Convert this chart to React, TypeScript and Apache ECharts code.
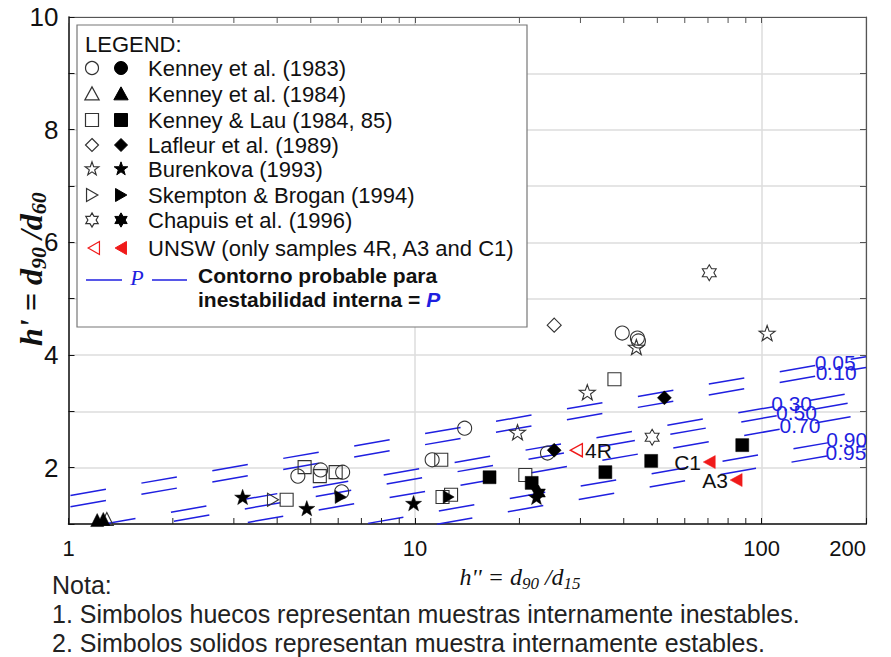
import React, { useEffect, useRef } from 'react';
import * as echarts from 'echarts';

// ---------------- data ----------------
const xMinorTicks = [2, 3, 4, 5, 6, 7, 8, 9, 20, 30, 40, 50, 60, 70, 80, 90];

// [h'' = d90/d15, h' = d90/d60]
const kenney1983Hollow = [[4.59, 1.85], [5.34, 1.96], [6.18, 1.92], [6.14, 1.57], [11.2, 2.14], [13.9, 2.70], [24.1, 2.26], [39.6, 4.39], [43.8, 4.30], [44.1, 4.25]];
const kenney1983Solid: number[][] = [];
const kenney1984Hollow = [[1.29, 1.09]];
const kenney1984Solid = [[1.21, 1.07], [1.26, 1.09]];
const kenneyLauHollow = [[4.80, 2.01], [5.31, 1.85], [5.90, 1.92], [4.26, 1.43], [11.9, 2.14], [12.0, 1.48], [12.7, 1.52], [20.8, 1.87], [37.6, 3.57]];
const kenneyLauSolid = [[16.4, 1.83], [21.7, 1.73], [35.4, 1.92], [48.0, 2.12], [87.9, 2.40]];
const lafleurHollow = [[25.2, 4.53]];
const lafleurSolid = [[25.2, 2.31], [52.4, 3.24]];
const burenkovaHollow = [[43.5, 4.14], [103.7, 4.39], [31.4, 3.34], [19.75, 2.63]];
const burenkovaSolid = [[3.18, 1.48], [4.87, 1.28], [9.90, 1.37], [22.4, 1.48]];
const skemptonHollow = [[3.89, 1.43]];
const skemptonSolid = [[6.10, 1.48], [12.5, 1.48]];
const chapuisHollow = [[70.6, 5.46], [48.3, 2.54]];
const chapuisSolid = [[22.7, 1.55]];
const unswHollow = [[29.2, 2.31]];
const unswHollowNames = ['4R'];
const unswSolid = [[70.6, 2.10], [84.4, 1.78]];
const unswSolidNames = ['C1', 'A3'];

// probable internal-instability contours: h' at h''=1 and at h''=200
const contourLevels = ['0.05', '0.10', '0.30', '0.50', '0.70', '0.90', '0.95'];
const contourStartY = [1.50, 1.30, 0.89, 0.72, 0.47, 0.08, -0.15];
const contourEndY = [3.97, 3.78, 3.37, 3.20, 2.95, 2.56, 2.33];
const contourLabelX = [163, 164, 122, 126, 129, 176, 175];

const legendNames = [
  'Kenney et al. (1983)',
  'Kenney et al. (1984)',
  'Kenney & Lau (1984, 85)',
  'Lafleur et al. (1989)',
  'Burenkova (1993)',
  'Skempton & Brogan (1994)',
  'Chapuis et al. (1996)',
  'UNSW (only samples 4R, A3 and C1)',
];

const notes = [
  'Nota:',
  '1. Simbolos huecos representan muestras internamente inestables.',
  '2. Simbolos solidos representan muestra internamente estables.',
];

// ---------------- styles ----------------
const BLUE = '#1f1fe0';
const RED = '#f01a1a';
const INK = '#111';
const FONT = "'Liberation Sans', Arial, sans-serif";
const SERIF = "'Liberation Serif', 'Times New Roman', serif";

function starPoints(cx: number, cy: number, R: number) {
  const pts: number[][] = [];
  for (let k = 0; k < 10; k++) {
    const a = (-90 + 36 * k) * Math.PI / 180;
    const r = k % 2 === 0 ? R : R * 0.4;
    pts.push([cx + r * Math.cos(a), cy + r * Math.sin(a)]);
  }
  return pts;
}
function hexagramPoints(cx: number, cy: number, R: number) {
  const pts: number[][] = [];
  for (let k = 0; k < 12; k++) {
    const a = (-90 + 30 * k) * Math.PI / 180;
    const r = k % 2 === 0 ? R : R / Math.sqrt(3);
    pts.push([cx + r * Math.cos(a), cy + r * Math.sin(a)]);
  }
  return pts;
}
function toPath(pts: number[][]) {
  return 'path://' + pts.map((p, i) => (i ? 'L' : 'M') + p[0].toFixed(3) + ',' + p[1].toFixed(3)).join(' ') + ' Z';
}

const shapes = ['circle', 'triangle', 'rect', 'diamond', 'star', 'triRight', 'hexagram', 'triLeft'];
const SYMBOL: Record<string, string> = {
  circle: 'circle',
  triangle: 'triangle',
  rect: 'rect',
  diamond: 'diamond',
  star: toPath(starPoints(0, 0, 10)),
  triRight: 'path://M0,0 L10,6 L0,12 Z',
  hexagram: toPath(hexagramPoints(0, 0, 10)),
  triLeft: 'path://M10,0 L0,6 L10,12 Z',
};
const SYMBOL_SIZE: Record<string, any> = {
  circle: 14, triangle: 13, rect: 13, diamond: 14, star: 16, triRight: [11, 13], hexagram: 16, triLeft: [12, 13],
};

const Z = 100;

function legendShape(shape: string, cx: number, cy: number, s: number, hollow: boolean, color: string) {
  const style = hollow
    ? { fill: 'none', stroke: color, lineWidth: 1.2 }
    : { fill: color, stroke: color, lineWidth: 1 };
  if (shape === 'circle') return { type: 'circle', z: Z + 1, shape: { cx, cy, r: s / 2 }, style };
  if (shape === 'rect') return { type: 'rect', z: Z + 1, shape: { x: cx - s / 2, y: cy - s / 2, width: s, height: s }, style };
  let pts: number[][] = [];
  if (shape === 'triangle') pts = [[cx, cy - s * 0.55], [cx + s * 0.55, cy + s * 0.45], [cx - s * 0.55, cy + s * 0.45]];
  if (shape === 'diamond') pts = [[cx, cy - s / 2], [cx + s / 2, cy], [cx, cy + s / 2], [cx - s / 2, cy]];
  if (shape === 'star') pts = starPoints(cx, cy, s * 0.55);
  if (shape === 'hexagram') pts = hexagramPoints(cx, cy, s * 0.55);
  if (shape === 'triRight') pts = [[cx - s * 0.42, cy - s / 2], [cx + s * 0.45, cy], [cx - s * 0.42, cy + s / 2]];
  if (shape === 'triLeft') pts = [[cx + s * 0.42, cy - s / 2], [cx - s * 0.45, cy], [cx + s * 0.42, cy + s / 2]];
  return { type: 'polygon', z: Z + 1, shape: { points: pts }, style };
}

function textEl(x: number, y: number, style: any, extra: any = {}) {
  return {
    type: 'text', x, y, z: Z + 1, ...extra,
    style: { align: 'left', verticalAlign: 'middle', textAlign: 'left', textVerticalAlign: 'middle', ...style },
  };
}

function buildOption() {
  const groups = [
    [kenney1983Hollow, kenney1983Solid],
    [kenney1984Hollow, kenney1984Solid],
    [kenneyLauHollow, kenneyLauSolid],
    [lafleurHollow, lafleurSolid],
    [burenkovaHollow, burenkovaSolid],
    [skemptonHollow, skemptonSolid],
    [chapuisHollow, chapuisSolid],
  ];

  const series: any[] = [];

  // contour lines
  const dashShift = [2, 2, 32, 34, 37, 16, 14];
  contourLevels.forEach((lv, i) => {
    series.push({
      type: 'line', name: 'P=' + lv, silent: true, z: 2, clip: true,
      symbol: 'none', showSymbol: false,
      data: [[1, contourStartY[i]], [200, contourEndY[i]]],
      lineStyle: { color: BLUE, width: 1.5, opacity: 1, type: [36, 36], dashOffset: (72 - 1.015 * dashShift[i] + 72) % 72 },
    });
  });
  // contour labels, placed on each contour line
  const L200 = Math.log10(200);
  series.push({
    type: 'scatter', silent: true, z: 6, symbol: 'circle', symbolSize: 1,
    itemStyle: { color: 'rgba(0,0,0,0)', borderWidth: 0, opacity: 1 },
    data: contourLevels.map((lv, i) => {
      const t = Math.log10(contourLabelX[i]) / L200;
      return { value: [contourLabelX[i], contourStartY[i] + (contourEndY[i] - contourStartY[i]) * t], name: lv };
    }),
    label: { show: true, position: 'inside', formatter: '{b}', color: BLUE, fontSize: 21, lineHeight: 14, fontFamily: FONT },
  });

  // minor ticks of the log axis (bottom and top)
  series.push({
    type: 'custom', silent: true, z: 7, clip: false,
    data: xMinorTicks.map((v) => [v, 1]),
    renderItem: (params: any, api: any) => {
      const v = api.value(0);
      const b = api.coord([v, 1]);
      const t = api.coord([v, 10]);
      return {
        type: 'group',
        children: [
          { type: 'line', shape: { x1: b[0], y1: b[1], x2: b[0], y2: b[1] - 6 }, style: { stroke: '#222', lineWidth: 1 } },
          { type: 'line', shape: { x1: t[0], y1: t[1], x2: t[0], y2: t[1] + 6 }, style: { stroke: '#555', lineWidth: 1 } },
        ],
      };
    },
  });

  groups.forEach(([hollow, solid], gi) => {
    const shp = shapes[gi];
    const keep = shp === 'star' || shp === 'hexagram';
    if (hollow.length) series.push({
      type: 'scatter', name: legendNames[gi] + ' (inestable)', z: 4,
      symbol: SYMBOL[shp], symbolSize: SYMBOL_SIZE[shp], symbolKeepAspect: keep,
      itemStyle: { color: 'rgba(255,255,255,0)', borderColor: '#333', borderWidth: 1.1, opacity: 1 },
      data: hollow,
    });
    if (solid.length) series.push({
      type: 'scatter', name: legendNames[gi] + ' (estable)', z: 4,
      symbol: SYMBOL[shp], symbolSize: SYMBOL_SIZE[shp], symbolKeepAspect: keep,
      itemStyle: { color: '#000', borderColor: '#000', borderWidth: 0.5, opacity: 1 },
      data: solid,
    });
  });

  // UNSW samples
  series.push({
    type: 'scatter', name: 'UNSW (inestable)', z: 5,
    symbol: SYMBOL.triLeft, symbolSize: SYMBOL_SIZE.triLeft,
    itemStyle: { color: 'rgba(255,255,255,0)', borderColor: RED, borderWidth: 1.4, opacity: 1 },
    data: unswHollow.map((p, i) => ({ value: p, name: unswHollowNames[i] })),
    label: { show: true, position: 'right', distance: 2, formatter: '{b}', color: INK, fontSize: 21, fontFamily: FONT },
  });
  series.push({
    type: 'scatter', name: 'UNSW (estable)', z: 5,
    symbol: SYMBOL.triLeft, symbolSize: SYMBOL_SIZE.triLeft,
    itemStyle: { color: RED, borderColor: RED, borderWidth: 0.5, opacity: 1 },
    data: unswSolid.map((p, i) => ({ value: p, name: unswSolidNames[i] })),
    label: { show: true, position: 'left', distance: 2, formatter: '{b}', color: INK, fontSize: 21, fontFamily: FONT },
  });

  // ---------- graphic: legend, titles, notes ----------
  const rowY = [68, 94, 120, 145, 169, 195, 220, 248];
  const graphic: any[] = [
    { type: 'rect', z: Z, shape: { x: 77, y: 25, width: 450, height: 302 }, style: { fill: '#fff', stroke: '#777', lineWidth: 1.2 } },
    textEl(85, 44, { text: 'LEGEND:', fontSize: 22, fontFamily: FONT, fill: INK }),
  ];
  legendNames.forEach((nm, i) => {
    const col = i === 7 ? RED : '#000';
    const hx = i === 7 ? 94 : 92;
    graphic.push(legendShape(shapes[i], hx, rowY[i], 13, true, i === 7 ? RED : '#333'));
    graphic.push(legendShape(shapes[i], 121, rowY[i], 13, false, col));
    graphic.push(textEl(148, rowY[i], { text: nm, fontSize: 22, fontFamily: FONT, fill: INK }));
  });
  graphic.push({ type: 'line', z: Z + 1, shape: { x1: 86, y1: 280, x2: 122, y2: 280 }, style: { stroke: BLUE, lineWidth: 1.5 } });
  graphic.push({ type: 'line', z: Z + 1, shape: { x1: 152, y1: 280, x2: 187, y2: 280 }, style: { stroke: BLUE, lineWidth: 1.5 } });
  graphic.push(textEl(137, 277, { text: 'P', fontSize: 22, fontFamily: SERIF, fontStyle: 'italic', fill: BLUE, align: 'center', textAlign: 'center' }));
  graphic.push(textEl(198, 275, { text: 'Contorno probable para', fontSize: 21, fontFamily: FONT, fontWeight: 'bold', fill: INK }));
  graphic.push(textEl(198, 299, {
    text: '{a|inestabilidad interna = }{p|P}',
    rich: {
      a: { fontSize: 21, fontFamily: FONT, fontWeight: 'bold', fill: INK, color: INK },
      p: { fontSize: 21, fontFamily: FONT, fontWeight: 'bold', fontStyle: 'italic', fill: BLUE, color: BLUE },
    },
  }));

  graphic.push(textEl(520, 577, {
    text: "{m|h'' = d}{s|90}{m| /d}{s|15}",
    align: 'center', textAlign: 'center',
    rich: {
      m: { fontSize: 24, fontFamily: SERIF, fontStyle: 'italic', fill: INK, color: INK, lineHeight: 30 },
      s: { fontSize: 17, fontFamily: SERIF, fontStyle: 'italic', fill: INK, color: INK, lineHeight: 14, verticalAlign: 'bottom' },
    },
  }));
  // vertical axis title, reading upwards, starting near the bottom
  graphic.push(textEl(31, 346, {
    text: "{m|h' = d}{s|90}{m| /d}{s|60}",
    rich: {
      m: { fontSize: 32, fontFamily: SERIF, fontStyle: 'italic', fontWeight: 'bold', fill: INK, color: INK, lineHeight: 36 },
      s: { fontSize: 22, fontFamily: SERIF, fontStyle: 'italic', fontWeight: 'bold', fill: INK, color: INK, lineHeight: 16, verticalAlign: 'bottom' },
    },
  }, { rotation: Math.PI / 2 }));
  notes.forEach((t, i) => graphic.push(textEl(52, 585 + 29 * i, { text: t, fontSize: 25, fontFamily: FONT, fill: '#222' })));

  const axisLineDark = { show: true, lineStyle: { color: INK, width: 1.5 } };
  const axisLineLight = { show: true, lineStyle: { color: '#555', width: 1.2 } };

  return {
    animation: false,
    backgroundColor: '#fff',
    grid: { left: 68.5, right: 25, top: 17, bottom: 133, containLabel: false },
    xAxis: [
      {
        type: 'log', logBase: 10, min: 1, max: 200, position: 'bottom',
        axisLine: axisLineDark,
        axisTick: { show: true, inside: true, length: 6, lineStyle: { color: INK, width: 1 } },
        axisLabel: { show: true, fontSize: 22, fontFamily: FONT, color: INK, margin: 13, showMinLabel: true, showMaxLabel: true, alignMaxLabel: 'right' },
        splitLine: { show: true, lineStyle: { color: '#dcdcdc', width: 1.5 } },
        minorTick: { show: false }, minorSplitLine: { show: false },
      },
      {
        type: 'log', logBase: 10, min: 1, max: 200, position: 'top',
        axisLine: axisLineLight,
        axisTick: { show: true, inside: true, length: 6, lineStyle: { color: '#555', width: 1 } },
        axisLabel: { show: false },
        splitLine: { show: false },
      },
    ],
    yAxis: [
      {
        type: 'value', min: 1, max: 10, interval: 1, position: 'left',
        axisLine: axisLineDark,
        axisTick: { show: true, inside: true, length: 6, lineStyle: { color: INK, width: 1 } },
        axisLabel: {
          show: true, fontSize: 26, fontFamily: FONT, color: INK, margin: 10,
          formatter: (v: number) => (v % 2 === 0 ? String(v) : ''),
        },
        splitLine: { show: true, lineStyle: { color: '#dcdcdc', width: 1.5 } },
      },
      {
        type: 'value', min: 1, max: 10, interval: 1, position: 'right',
        axisLine: axisLineLight,
        axisTick: { show: true, inside: true, length: 6, lineStyle: { color: '#555', width: 1 } },
        axisLabel: { show: false },
        splitLine: { show: false },
      },
    ],
    series,
    graphic,
  };
}

export default function App() {
  const ref = useRef<HTMLDivElement>(null);
  useEffect(() => {
    const chart = echarts.init(ref.current!, null, { renderer: 'svg' });
    chart.setOption(buildOption() as any);
    return () => chart.dispose();
  }, []);
  return <div ref={ref} style={{ position: 'fixed', left: 0, top: 0, width: 891, height: 657, background: '#fff' }} />;
}
